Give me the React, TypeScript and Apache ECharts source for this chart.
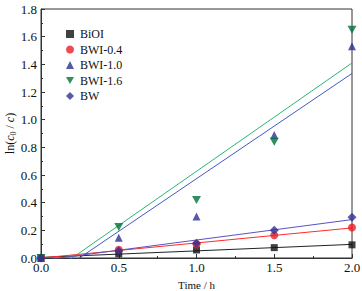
import React, { useEffect, useRef } from "react";
import * as echarts from "echarts";

const times = [0, 0.5, 1.0, 1.5, 2.0];
const seriesNames = ["BiOI", "BWI-0.4", "BWI-1.0", "BWI-1.6", "BW"];
const biOI = [0, 0.03, 0.058, 0.075, 0.095];
const bwi04 = [0, 0.06, 0.1, 0.164, 0.22];
const bwi10 = [0, 0.147, 0.3, 0.89, 1.53];
const bwi16 = [0, 0.224, 0.42, 0.84, 1.65];
const bw = [0, 0.05, 0.106, 0.2, 0.294];
const yTicks = [0, 0.2, 0.4, 0.6, 0.8, 1.0, 1.2, 1.4, 1.6, 1.8];
const xTicks = [0, 0.5, 1.0, 1.5, 2.0];

const markerColors = ["#111111", "#ee1c24", "#2b3190", "#00703c", "#2e3192"];
const lineColors = ["#222222", "#ff2a2a", "#4358c4", "#2bb673", "#5b52c0"];
const symbols = [
  "rect",
  "circle",
  "triangle",
  "path://M0,0 L10,0 L5,9 Z",
  "diamond",
];

function fit(xs: number[], ys: number[]) {
  const n = xs.length;
  const mx = xs.reduce((a, b) => a + b, 0) / n;
  const my = ys.reduce((a, b) => a + b, 0) / n;
  let sxy = 0;
  let sxx = 0;
  for (let i = 0; i < n; i++) {
    sxy += (xs[i] - mx) * (ys[i] - my);
    sxx += (xs[i] - mx) * (xs[i] - mx);
  }
  const k = sxy / sxx;
  const b = my - k * mx;
  const x0 = xs[0];
  const x1 = xs[n - 1];
  return [
    [x0, k * x0 + b],
    [x1, k * x1 + b],
  ];
}

export default function App() {
  const ref = useRef<HTMLDivElement>(null);
  useEffect(() => {
    if (!ref.current) return;
    const chart = echarts.init(ref.current, null, { renderer: "svg" });
    const data = [biOI, bwi04, bwi10, bwi16, bw];
    const font = "Liberation Serif";
    const lineSeries = data.map((ys, i) => ({
      type: "line",
      data: fit(times, ys),
      showSymbol: false,
      symbol: "none",
      clip: true,
      lineStyle: { color: lineColors[i], width: 1 },
      z: 2,
      silent: true,
    }));
    const scatterSeries = data.map((ys, i) => ({
      type: "scatter",
      name: seriesNames[i],
      data: times.map((t, j) => [t, ys[j]]),
      symbol: symbols[i],
      symbolSize: i === 0 ? 7 : i === 3 ? [9, 8] : i === 4 ? 9 : 8,
      itemStyle: { color: markerColors[i] },
      clip: false,
      z: 3,
    }));
    chart.setOption({
      animation: false,
      textStyle: { fontFamily: font },
      grid: {
        left: 41,
        right: 10,
        top: 9,
        bottom: 33,
        outerBoundsMode: "none",
        containLabel: false,
        show: true,
        borderColor: "#333",
        borderWidth: 1,
        backgroundColor: "transparent",
      },
      legend: {
        left: 61,
        top: 23,
        orient: "vertical",
        itemWidth: 8,
        itemHeight: 8,
        itemGap: 3.5,
        data: seriesNames,
        textStyle: { fontFamily: font, fontSize: 12, color: "#111", padding: [0, 0, 0, 1] },
      },
      xAxis: {
        type: "value",
        min: 0,
        max: 2,
        interval: 0.5,
        name: "Time / h",
        nameLocation: "middle",
        nameGap: 21,
        nameMoveOverlap: false,
        nameTextStyle: { fontFamily: font, fontSize: 11, color: "#111" },
        axisLine: { show: true, lineStyle: { color: "#333" } },
        axisTick: { inside: true, length: 4, lineStyle: { color: "#333" } },
        minorTick: { show: true, splitNumber: 2, length: 2, lineStyle: { color: "#333" } },
        splitLine: { show: false },
        axisLabel: {
          fontFamily: font,
          fontSize: 13,
          color: "#111",
          margin: 3,
          formatter: (v: number) => (xTicks.includes(v) ? v.toFixed(1) : ""),
        },
      },
      yAxis: {
        type: "value",
        min: 0,
        max: 1.8,
        interval: 0.2,
        name: "{n|ln(}{i|c}{s|0}{n| / }{i|c}{n|)}",
        nameLocation: "middle",
        nameGap: 24,
        nameRotate: 90,
        nameMoveOverlap: false,
        nameTextStyle: {
          fontFamily: font,
          fontSize: 12,
          color: "#111",
          lineHeight: 14,
          rich: {
            n: { fontFamily: font, fontSize: 12, color: "#111", lineHeight: 14 },
            i: { fontFamily: font, fontSize: 12, fontStyle: "italic", color: "#111", lineHeight: 14 },
            s: { fontFamily: font, fontSize: 8, color: "#111", verticalAlign: "bottom", lineHeight: 14 },
          },
        },
        axisLine: { show: true, lineStyle: { color: "#333" } },
        axisTick: { inside: true, length: 4, lineStyle: { color: "#333" } },
        minorTick: { show: true, splitNumber: 2, length: 2, lineStyle: { color: "#333" } },
        splitLine: { show: false },
        axisLabel: {
          fontFamily: font,
          fontSize: 13,
          color: "#111",
          margin: 4,
          formatter: (v: number) => {
            const m = yTicks.find((t) => Math.abs(t - v) < 1e-6);
            return m === undefined ? "" : m.toFixed(1);
          },
        },
      },
      series: [...lineSeries, ...scatterSeries],
    });
    return () => chart.dispose();
  }, []);
  return (
    <div
      ref={ref}
      style={{ position: "absolute", left: 0, top: 0, width: 362, height: 291 }}
    />
  );
}
